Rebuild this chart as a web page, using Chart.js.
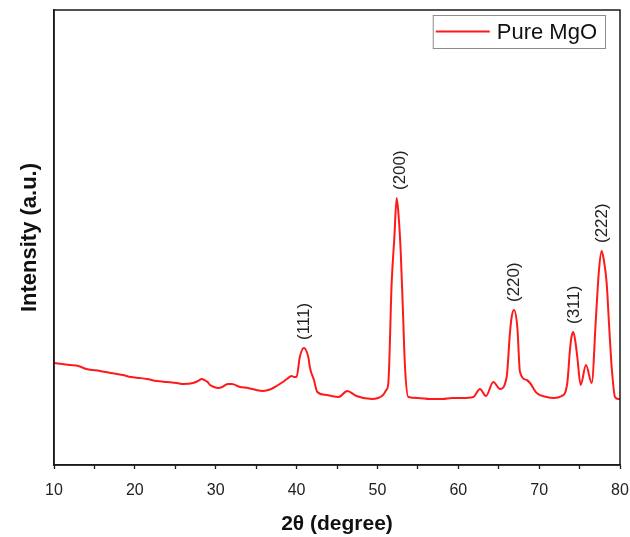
<!DOCTYPE html>
<html>
<head>
<meta charset="utf-8">
<title>XRD - Pure MgO</title>
<script src="https://cdn.jsdelivr.net/npm/chart.js@4.4.1/dist/chart.umd.min.js"></script>
<style>
    html, body { margin: 0; padding: 0; background: #fff; }
    canvas { display: block; }
</style>
</head>
<body>
<canvas id="xrdChart" width="630" height="537"></canvas>
<script>
// diffraction angle (2 theta, degree)
const twoTheta = [
    10, 11, 12, 13, 14, 15.7, 17, 18.5, 19.5, 20.6, 21.5, 22.7, 24, 25.2, 26, 27.2, 27.8, 28.3, 28.6, 29.0,
    29.3, 29.8, 30.3, 30.8, 31.2, 31.5, 32, 33, 34, 35, 35.8, 36.5, 37.1, 38.3, 38.8, 39.4, 39.7, 40.0,
    40.4, 40.9, 41.45, 41.66, 42.15, 42.56, 43.7, 45.2, 46.27, 47.4, 49.3, 50.7, 51.1, 51.35, 51.76,
    52.09, 52.38, 52.63, 52.87, 53.12, 53.41, 53.82, 55, 56.5, 58, 59.3, 60.5, 61.86, 62.68, 63.42,
    64.33, 65.16, 65.98, 66.39, 66.6, 66.89, 67.3, 67.63, 68.46, 68.87, 69.7, 70.93, 71.8, 72.79,
    73.48, 73.81, 74.0, 74.22, 74.45, 74.72, 75.13, 75.79, 76.5, 77.03, 77.4, 77.73, 78.0, 78.35,
    78.65, 78.97, 79.38, 79.79, 80
];

// measured intensity (a.u.)
const intensity = [
    102, 101, 100, 99, 96, 94, 92, 90, 88, 87, 86, 84, 83, 82, 81, 82, 84, 86, 85, 83,
    80, 78, 77, 78, 80, 81, 81, 78, 77, 75, 74, 75, 77, 83, 86, 89, 88, 88,
    108, 117, 108, 97, 85, 73, 70, 68, 74, 69, 66, 70, 75, 82, 182,
    227, 267, 248, 215, 162, 98, 68, 67, 66, 66, 67, 67, 68, 76, 69,
    83, 76, 88, 132, 148, 155, 138, 93, 85, 82, 72, 68, 67, 69,
    82, 115, 128, 133, 125, 108, 80, 100, 82, 148, 195, 214, 205, 182,
    140, 98, 68, 66, 66
];

// x axis tick labels
const xTickLabels = [10, 20, 30, 40, 50, 60, 70, 80];

// Miller indices of the MgO reflections and where they sit on the 2 theta axis
const peakNames = ['(111)', '(200)', '(220)', '(311)', '(222)'];
const peakAngles = [41.0, 52.8, 66.9, 74.3, 77.8];

const seriesName = 'Pure MgO';
const fontFamily = "'Liberation Sans', Arial, sans-serif";

// black frame round the plot
const framePlugin = {
    id: 'frame',
    afterDraw: (chart) => {
        const { ctx, chartArea } = chart;
        ctx.save();
        ctx.strokeStyle = '#1a1a1a';
        ctx.lineWidth = 1.5;
        ctx.strokeRect(chartArea.left, chartArea.top, chartArea.right - chartArea.left, chartArea.bottom - chartArea.top);
        ctx.restore();
    }
};

// vertical hkl labels above each reflection
const peakLabelPlugin = {
    id: 'peakLabels',
    afterDatasetsDraw: (chart) => {
        const { ctx, scales } = chart;
        ctx.save();
        ctx.fillStyle = '#222';
        ctx.font = '17px ' + fontFamily;
        ctx.textAlign = 'left';
        ctx.textBaseline = 'middle';
        peakNames.forEach((name, i) => {
            // highest point near the label position
            let top = 0;
            twoTheta.forEach((t, j) => {
                if (Math.abs(t - peakAngles[i]) < 0.8 && intensity[j] > top) top = intensity[j];
            });
            const x = scales.x.getPixelForValue(peakAngles[i]);
            const y = scales.y.getPixelForValue(top) - 8;
            ctx.save();
            ctx.translate(x, y);
            ctx.rotate(-Math.PI / 2);
            ctx.fillText(name, 0, 0);
            ctx.restore();
        });
        ctx.restore();
    }
};

// boxed legend in the upper right corner
const legendBoxPlugin = {
    id: 'legendBox',
    afterDraw: (chart) => {
        const { ctx, chartArea } = chart;
        const ds = chart.data.datasets[0];
        ctx.save();
        ctx.font = '22px ' + fontFamily;
        const textW = ctx.measureText(ds.label).width;
        const right = chartArea.right - 15;
        const top = chartArea.top + 5;
        const h = 33;
        const w = 3 + 54 + 7 + textW + 8;
        const left = right - w;
        ctx.fillStyle = '#fff';
        ctx.fillRect(left, top, w, h);
        ctx.strokeStyle = '#8c8c8c';
        ctx.lineWidth = 1;
        ctx.strokeRect(left + 0.5, top + 0.5, w, h);
        ctx.strokeStyle = ds.borderColor;
        ctx.lineWidth = 2;
        ctx.beginPath();
        ctx.moveTo(left + 3, top + h / 2);
        ctx.lineTo(left + 57, top + h / 2);
        ctx.stroke();
        ctx.fillStyle = '#111';
        ctx.textBaseline = 'middle';
        ctx.fillText(ds.label, left + 64, top + h / 2 + 1);
        ctx.restore();
    }
};

document.addEventListener('DOMContentLoaded', () => {
    const ctx = document.getElementById('xrdChart').getContext('2d');

    const points = twoTheta.map((t, i) => ({ x: t, y: intensity[i] }));

    new Chart(ctx, {
        type: 'line',
        data: {
            datasets: [{
                label: seriesName,
                data: points,
                borderColor: '#ff1a1a',
                borderWidth: 2,
                pointRadius: 0,
                cubicInterpolationMode: 'monotone',
                fill: false
            }]
        },
        options: {
            responsive: false,
            animation: false,
            devicePixelRatio: 1,
            layout: { padding: { top: 10, right: 10, left: 0, bottom: 0 } },
            plugins: {
                legend: { display: false },
                tooltip: { enabled: false }
            },
            scales: {
                x: {
                    type: 'linear',
                    min: 10,
                    max: 80,
                    afterFit: (scale) => {
                        scale.height = 72;
                        // end labels fit inside the layout padding already
                        scale.paddingLeft = 0;
                        scale.paddingRight = 0;
                    },
                    border: { color: '#1a1a1a', width: 1.5 },
                    grid: { drawOnChartArea: false, tickLength: 4, tickColor: '#1a1a1a', tickWidth: 1.3 },
                    ticks: {
                        stepSize: 5,
                        autoSkip: false,
                        maxRotation: 0,
                        padding: 12,
                        color: '#222',
                        font: { family: fontFamily, size: 16 },
                        callback: (v) => xTickLabels.includes(v) ? String(v) : ''
                    },
                    title: {
                        display: true,
                        text: '2θ (degree)',
                        color: '#111',
                        font: { family: fontFamily, size: 21, weight: 'bold' },
                        padding: { top: 0, bottom: 0 }
                    }
                },
                y: {
                    min: 0,
                    max: 455,
                    afterFit: (scale) => { scale.width = 54; },
                    border: { color: '#1a1a1a', width: 1.5 },
                    grid: { display: true, drawOnChartArea: false, drawTicks: false },
                    ticks: { display: false },
                    title: {
                        display: true,
                        text: 'Intensity (a.u.)',
                        color: '#111',
                        font: { family: fontFamily, size: 22, weight: 'bold' },
                        padding: { top: 17, bottom: 0 }
                    }
                }
            }
        },
        plugins: [peakLabelPlugin, framePlugin, legendBoxPlugin]
    });
});
</script>
</body>
</html>
